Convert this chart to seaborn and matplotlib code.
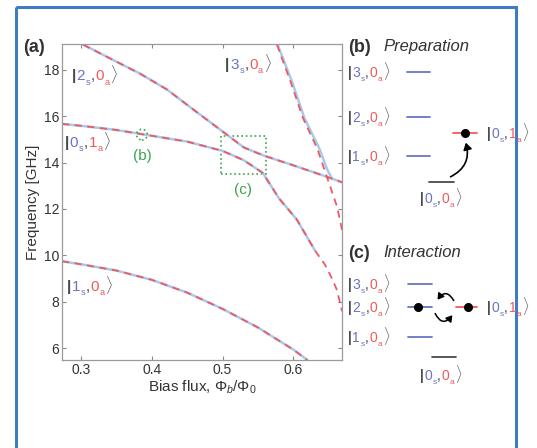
import numpy as np
import matplotlib
matplotlib.use("Agg")
import matplotlib.pyplot as plt
import matplotlib.transforms as mtransforms
from matplotlib.patches import Rectangle, FancyArrowPatch
import seaborn as sns

sns.set_style("ticks")
plt.rcParams["font.family"] = ["Liberation Sans", "DejaVu Sans"]
plt.rcParams["mathtext.fontset"] = "custom"
plt.rcParams["mathtext.rm"] = "Liberation Sans"
plt.rcParams["mathtext.it"] = "Liberation Sans:italic"

# --- data (bias flux, frequency in GHz) ---
# |1s,0a> branch
x_1s = [0.273, 0.30, 0.35, 0.40, 0.45, 0.50, 0.55, 0.60, 0.62]
y_1s = [9.75, 9.62, 9.35, 8.95, 8.40, 7.70, 6.90, 5.95, 5.50]
# lower branch (|0s,1a> on the left, bends down after the anticrossing)
x_low = [0.273, 0.30, 0.35, 0.39, 0.45, 0.50, 0.53, 0.557, 0.58, 0.605, 0.631]
y_low = [15.66, 15.58, 15.40, 15.20, 14.90, 14.50, 14.10, 13.55, 12.45, 11.55, 10.20]
# red model continues the lower branch past the blue data
x_low_tail = [0.631, 0.645, 0.655, 0.662, 0.669]
y_low_tail = [10.20, 9.60, 9.00, 8.50, 7.60]
# upper branch (|2s,0a> on the left, flattens after the anticrossing)
x_up = [0.303, 0.33, 0.383, 0.421, 0.46, 0.506, 0.53, 0.558, 0.60, 0.648, 0.669]
y_up = [19.07, 18.65, 17.83, 17.15, 16.25, 15.20, 14.65, 14.30, 13.88, 13.38, 13.15]
# |3s,0a> branch: blue data and red model
x_3s_blue = [0.578, 0.598, 0.616, 0.637, 0.648, 0.655]
y_3s_blue = [19.07, 17.50, 15.90, 14.60, 13.70, 13.30]
x_3s_red = [0.577, 0.596, 0.614, 0.634, 0.648, 0.662, 0.669]
y_3s_red = [19.07, 17.50, 15.90, 14.60, 13.35, 12.10, 11.10]

x_ticks = [0.3, 0.4, 0.5, 0.6]
y_ticks = [6, 8, 10, 12, 14, 16, 18]

# main-panel state labels: (x, y, n_s, n_a)
main_kets = [(0.287, 17.53, "2", "0"), (0.277, 14.68, "0", "1"),
             (0.280, 8.47, "1", "0"), (0.504, 18.04, "3", "0")]
# marker for (b) and box for (c)
b_mark = (0.386, 15.2)
c_box = (0.498, 13.49, 0.562, 15.15)

# level diagrams, pixel layout (y downwards)
levels_b = [72, 117, 156]        # |3>, |2>, |1> of panel (b)
levels_c = [284, 307, 337]       # |3>, |2>, |1> of panel (c)

BLUE_LINE = "#a9c9ec"
RED_DASH = "#ec5a62"
GREEN = "#3fa34d"
GRAY = "#4a4a4a"
KB = "#6a74c6"
KR = "#ee5a5a"
FRAME = "#3f7cc4"

fig = plt.figure(figsize=(5.37, 4.48), dpi=100)
ov = fig.add_axes([0, 0, 1, 1])
ov.set_xlim(0, 537)
ov.set_ylim(448, 0)
ov.axis("off")

ax = fig.add_axes([62 / 537, 1 - 360 / 448, 280 / 537, 316 / 448])
rend = fig.canvas.get_renderer()


def ket(axis, x, y, ns, na, fs=10, clip=None):
    parts = [("|", GRAY, 0), (ns, KB, 0), ("s", KB, 1), (",", GRAY, 0),
             (na, KR, 0), ("a", KR, 1), (r"$\rangle$", GRAY, 0)]
    dx = 0.0
    for s, c, sub in parts:
        tr = mtransforms.offset_copy(axis.transData, fig=fig, x=dx,
                                     y=-fs * 0.28 if sub else 0, units="points")
        t = axis.text(x, y, s, color=c, fontsize=fs * 0.6 if sub else fs,
                      transform=tr, ha="left", va="baseline",
                      fontweight="bold" if s == "|" else "normal")
        if clip is not None:
            t.set_clip_path(clip)
        dx += t.get_window_extent(rend).width * 72 / fig.dpi + 0.4


def curve(xs, ys, color, dashed=False, lw=1.8):
    kw = dict(linestyle=(0, (4, 3))) if dashed else {}
    sns.lineplot(x=xs, y=ys, ax=ax, color=color, lw=lw, sort=False,
                 estimator=None, **kw)


# blue solid data lines
for xs, ys in [(x_1s, y_1s), (x_low, y_low), (x_up, y_up), (x_3s_blue, y_3s_blue)]:
    curve(xs, ys, BLUE_LINE, lw=1.8)
# red dashed model lines
for xs, ys in [(x_1s, y_1s), (x_low, y_low), (x_low_tail, y_low_tail),
               (x_up, y_up), (x_3s_red, y_3s_red)]:
    curve(xs, ys, RED_DASH, dashed=True, lw=1.3)

ax.set_xlim(0.273, 0.669)
ax.set_ylim(5.5, 19.1)
ax.set_xticks(x_ticks)
ax.set_yticks(y_ticks)
ax.set_xticklabels([f"{v:.1f}" for v in x_ticks])
ax.tick_params(direction="in", length=3, top=True, right=True, labelsize=10,
               colors="#888888", labelcolor="#333333", pad=2)
for sp in ax.spines.values():
    sp.set_visible(True)
    sp.set_color("#9a9a9a")
    sp.set_linewidth(0.9)
ax.set_xlabel(r"Bias flux, $\Phi_b/\Phi_0$", fontsize=11, color="#333333", labelpad=1)
ax.set_ylabel("Frequency [GHz]", fontsize=11, color="#333333", labelpad=3)

for x, y, ns, na in main_kets:
    ket(ax, x, y, ns, na, fs=11)

ax.scatter([b_mark[0]], [b_mark[1]], s=60, facecolors="none", edgecolors=GREEN,
           linewidths=1.2, linestyles=":", zorder=5)
ax.text(b_mark[0], 14.26, "(b)", color=GREEN, fontsize=11, ha="center", va="center")
ax.add_patch(Rectangle((c_box[0], c_box[1]), c_box[2] - c_box[0], c_box[3] - c_box[1],
                       fill=False, ec=GREEN, ls=":", lw=1.2))
ax.text(0.529, 12.8, "(c)", color=GREEN, fontsize=11, ha="center", va="center")

# frame
frame = Rectangle((16, 7.5), 500, 460, fill=False, ec=FRAME, lw=2.2)
ov.add_patch(frame)
clip = Rectangle((16, 7.5), 500, 460, transform=ov.transData)

ov.text(23, 52, "(a)", fontsize=13, fontweight="bold", color="#333333")

# panel (b)
ov.text(348, 52, "(b)", fontsize=13, fontweight="bold", color="#333333")
ov.text(383, 51, "Preparation", fontsize=12, style="italic", color="#333333")
for lv, n in zip(levels_b, ["3", "2", "1"]):
    ket(ov, 348, lv + 5, n, "0", fs=10)
    ov.plot([407, 430], [lv, lv], color=KB, lw=1.3)
ov.plot([429, 454], [182, 182], color=GRAY, lw=1.3)
ket(ov, 420, 203, "0", "0", fs=10)
ov.plot([453, 477], [133, 133], color=KR, lw=1.3)
ov.plot([465], [133], "o", color="black", ms=5.5)
ket(ov, 487, 138, "0", "1", fs=10, clip=clip)
ov.add_patch(FancyArrowPatch((448, 178), (465, 140), connectionstyle="arc3,rad=0.45",
                             arrowstyle="-|>,head_length=4,head_width=2.5",
                             color="black", lw=1.2))

# panel (c)
ov.text(348, 258, "(c)", fontsize=13, fontweight="bold", color="#333333")
ov.text(383, 257, "Interaction", fontsize=12, style="italic", color="#333333")
for lv, n in zip(levels_c, ["3", "2", "1"]):
    ket(ov, 348, lv + 5, n, "0", fs=10)
    ov.plot([408, 432], [lv, lv], color=KB, lw=1.3)
ov.plot([418], [307], "o", color="black", ms=5.5)
ov.plot([456, 477], [307, 307], color=KR, lw=1.3)
ov.plot([468], [307], "o", color="black", ms=5.5)
ket(ov, 487, 312, "0", "1", fs=10, clip=clip)
ov.plot([432, 456], [357, 357], color=GRAY, lw=1.3)
ket(ov, 420, 380, "0", "0", fs=10)
ov.add_patch(FancyArrowPatch((455, 303), (436, 302), connectionstyle="arc3,rad=0.9",
                             arrowstyle="-|>,head_length=3.5,head_width=2.2",
                             color="black", lw=1.1))
ov.add_patch(FancyArrowPatch((434, 311), (454, 313), connectionstyle="arc3,rad=0.9",
                             arrowstyle="-|>,head_length=3.5,head_width=2.2",
                             color="black", lw=1.1))

fig.savefig("out.png", dpi=100)
